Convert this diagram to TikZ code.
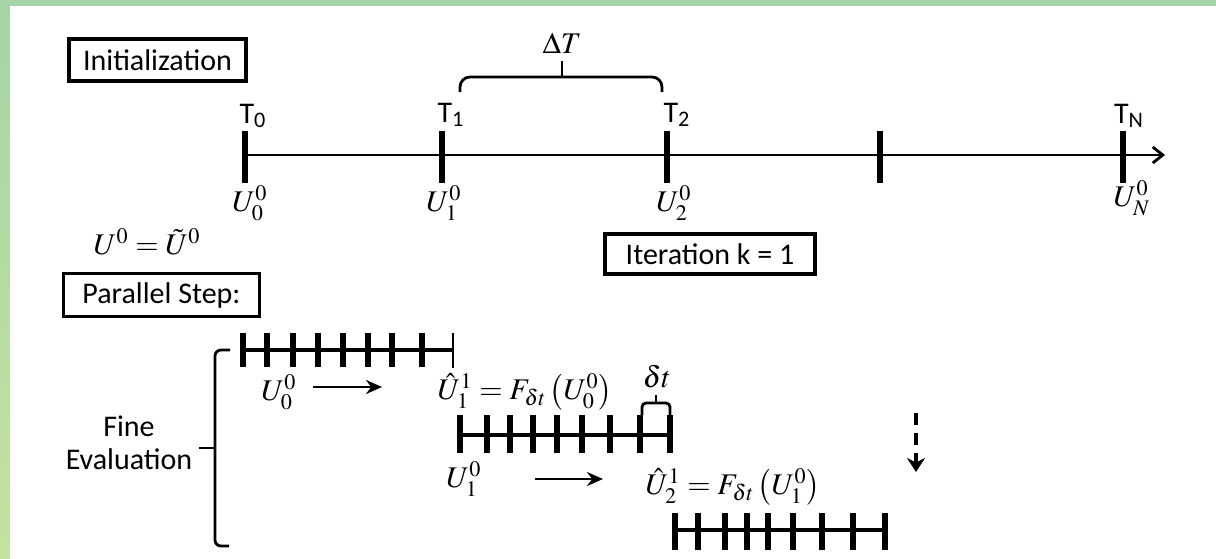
\documentclass[tikz,border=0pt]{standalone}
\usepackage{mathptmx}
\usepackage[no-math]{fontspec}
\setmainfont{Carlito}
\usetikzlibrary{arrows.meta}
\definecolor{bgtop}{RGB}{166,212,166}
\definecolor{bgbot}{RGB}{196,226,160}
\begin{document}
\begin{tikzpicture}[x=0.5pt,y=-0.5pt,
  lbl/.style={font=\fontsize{15}{16.5}\selectfont, inner sep=0pt},
  lbox/.style={draw, line width=2pt, font=\fontsize{15}{18}\selectfont, inner sep=0pt},
  axisline/.style={line width=1.4pt},
  bigtick/.style={line width=3pt},
  fineline/.style={line width=2.4pt},
  finetick/.style={line width=3pt},
  bracket/.style={line width=1.4pt},
  thinarrow/.style={line width=1.2pt,-{Stealth[length=8pt,width=7pt]}}]
\useasboundingbox (0,0) rectangle (1216,558);
\begin{scope}
\clip (0,0) rectangle (1216,558);
\shade[top color=bgtop,bottom color=bgbot] (0,0) rectangle (1216,558);
\fill[white] (10,6) rectangle (1230,570);
\end{scope}

% boxes
\node[lbox, minimum width=88.5pt, minimum height=21pt] (init) at (157.5,60) {Initialization};
\node[lbox, line width=1.6pt, minimum width=98pt, minimum height=21.5pt] (par) at (161.5,295) {Parallel Step:};
\node[lbox, minimum width=105pt, minimum height=20pt] (iter) at (710,254) {Iteration k = 1};

% coarse time axis
\foreach \n/\x in {0/245,1/442,2/667,3/880,4/1123} \coordinate (t\n) at (\x,155);
\coordinate (axend) at (1165,155);
\draw[axisline,-{Straight Barb[length=5pt,width=8pt]}] (t0) -- (axend);
\foreach \n in {0,...,4} \draw[bigtick] (t\n) ++(0,-24) -- ++(0,52);

\node[lbl] (T0) at (253,116) {T\textsubscript{0}};
\node[lbl] (T1) at (451,115) {T\textsubscript{1}};
\node[lbl] (T2) at (677,115) {T\textsubscript{2}};
\node[lbl] (TN) at (1129,116) {T\textsubscript{N}};

\node[lbl] (U0) at (250,203) {$U_0^0$};
\node[lbl] (U1) at (444,203) {$U_1^0$};
\node[lbl] (U2) at (674,203) {$U_2^0$};
\node[lbl] (UN) at (1132,198) {$U_N^0$};
\node[lbl] (Ueq) at (147,242) {$U^0=\tilde U^0$};

% Delta T brace
\node[lbl] (DT) at (562,43) {$\Delta T$};
\coordinate (brL) at (460,92);
\coordinate (brM) at (562,77);
\coordinate (brR) at (662,92);
\coordinate (brT) at (562,61);
\draw[bracket, rounded corners=5pt] (brL) |- (brM) -| (brR);
\draw[bracket] (brM) -- (brT);

% fine grids
\draw[fineline] (243,350) -- (453,350);
\foreach \x in {243,267,293,318,343,368,392,422} \draw[finetick] (\x,333) -- (\x,367);
\draw[line width=1.3pt] (453,333) -- (453,368);

\draw[fineline] (460,435) -- (670,435);
\foreach \x in {460,487,510,533,557,582,610,640,670} \draw[finetick] (\x,415) -- (\x,453);

\draw[fineline] (675,530) -- (885,530);
\foreach \x in {675,698,725,747,768,793,822,853,885} \draw[finetick] (\x,513) -- (\x,550);

% fine labels and arrows
\node[lbl] (u00) at (279,392) {$U_0^0$};
\coordinate (a1s) at (313,387);
\coordinate (a1e) at (382,387);
\draw[thinarrow] (a1s) -- (a1e);
\node[lbl] (f1) at (525,392) {$\hat U_1^1=F_{\delta t}\left(U_0^0\right)$};

\node[lbl] (dtl) at (657,377) {$\delta t$};
\coordinate (sbL) at (642,415);
\coordinate (sbM) at (656,403);
\coordinate (sbR) at (670,415);
\coordinate (sbT) at (656,395);
\draw[bracket, rounded corners=2pt] (sbL) |- (sbM) -| (sbR);
\draw[bracket] (sbM) -- (sbT);

\node[lbl] (u10) at (464,479) {$U_1^0$};
\coordinate (a2s) at (535,479);
\coordinate (a2e) at (603,479);
\draw[thinarrow] (a2s) -- (a2e);
\node[lbl] (f2) at (733,487) {$\hat U_2^1=F_{\delta t}\left(U_1^0\right)$};

% dashed arrow
\coordinate (ds) at (916,413);
\coordinate (de) at (916,472);
\draw[line width=1.6pt, dash pattern=on 6pt off 4pt, -{Stealth[length=7pt,width=9pt]}] (ds) -- (de);

% Fine evaluation bracket
\coordinate (fbT) at (230,350);
\coordinate (fbB) at (215,546);
\coordinate (fbE) at (229,546);
\coordinate (fbM) at (215,448);
\coordinate (fbL) at (199,448);
\draw[bracket, rounded corners=3pt] (fbT) -| (fbB) -- (fbE);
\draw[bracket] (fbM) -- (fbL);
\node[lbl, align=center] (fe) at (129,443) {Fine\\Evaluation};
\end{tikzpicture}
\end{document}
